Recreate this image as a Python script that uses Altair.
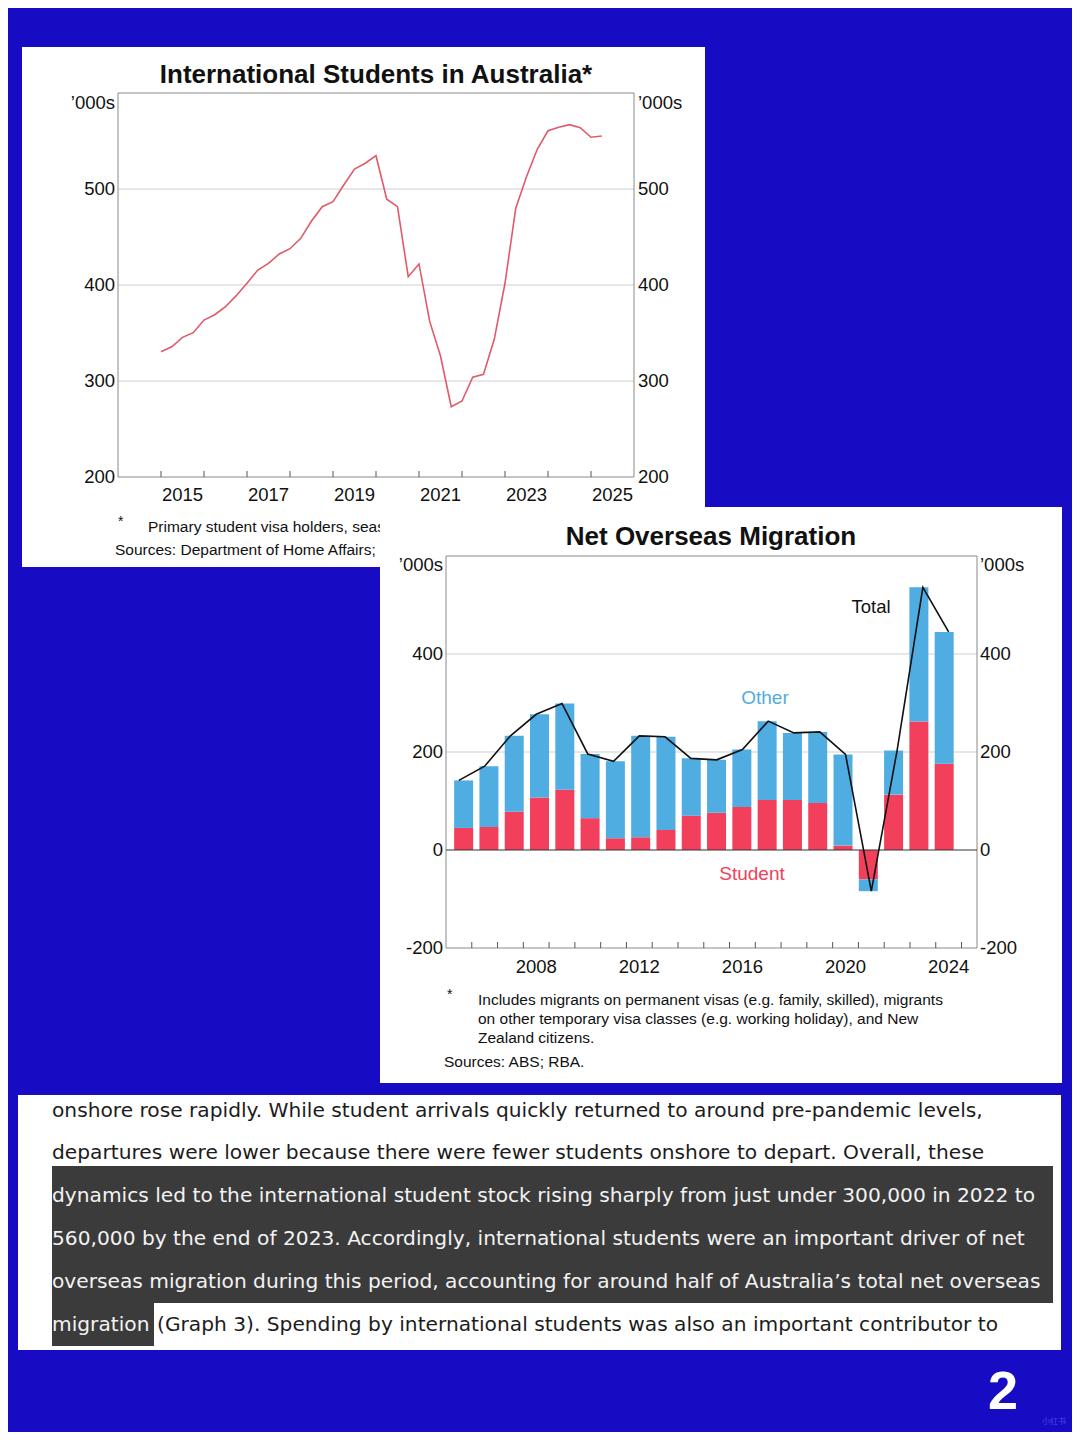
import altair as alt
import pandas as pd

# ---------------- Graph 1: International Students in Australia ('000s, quarterly) ----------------
stock_values = [330.5, 335.7, 345.5, 350.3, 363.5, 369.0, 377.4, 388.9, 401.8, 415.6,
                422.6, 432.3, 437.8, 448.6, 466.7, 481.6, 486.8, 504.2, 520.8, 526.8,
                534.7, 489.3, 481.6, 408.6, 421.9, 361.8, 326.0, 273.2, 279.2, 303.9,
                307.0, 343.4, 401.8, 479.9, 512.8, 541.4, 560.7, 564.3, 567.0, 563.9,
                553.9, 555.2]
stock_quarters = [f"{2015 + i // 4}-Q{i % 4 + 1}" for i in range(len(stock_values))]
g1_tick_years = [2015, 2016, 2017, 2018, 2019, 2020, 2021, 2022, 2023, 2024, 2025]
g1_label_years = ["2015", "2017", "2019", "2021", "2023", "2025"]
g1_y_labels = ["200", "300", "400", "500"]
g1_grid = [300, 400, 500]

# ---------------- Graph 2: Net Overseas Migration ('000s, annual) ----------------
nom_years = [2005, 2006, 2007, 2008, 2009, 2010, 2011, 2012, 2013, 2014,
             2015, 2016, 2017, 2018, 2019, 2020, 2021, 2022, 2023, 2024]
nom_student = [45, 47, 78, 107, 123, 65, 24, 26, 41, 70,
               76, 88, 102, 102, 96, 9, -60, 113, 262, 176]
nom_other = [97, 124, 155, 170, 176, 131, 157, 207, 190, 117,
             108, 117, 161, 137, 145, 186, -24, 90, 274, 269]
nom_total = [142, 171, 233, 277, 299, 196, 181, 233, 231, 187,
             184, 205, 263, 239, 241, 195, -84, 203, 536, 445]
g2_tick_years = [2005.5, 2006.5, 2007.5, 2008.5, 2009.5, 2010.5, 2011.5, 2012.5, 2013.5, 2014.5,
                 2015.5, 2016.5, 2017.5, 2018.5, 2019.5, 2020.5, 2021.5, 2022.5, 2023.5, 2024.5]
g2_label_years = ["2008", "2012", "2016", "2020", "2024"]
g2_y_labels = ["-200", "0", "200", "400"]
g2_grid = [200, 400]

# ---------------- Text block ----------------
text_plain = [
    "onshore rose rapidly. While student arrivals quickly returned to around pre-pandemic levels,",
    "departures were lower because there were fewer students onshore to depart. Overall, these",
]
text_highlight = [
    "dynamics led to the international student stock rising sharply from just under 300,000 in 2022 to",
    "560,000 by the end of 2023. Accordingly, international students were an important driver of net",
    "overseas migration during this period, accounting for around half of Australia\u2019s total net overseas",
]
last_highlight = "migration"
last_plain = "(Graph 3). Spending by international students was also an important contributor to"

# ---------------- styling ----------------
F = "Liberation Sans"
TF = "DejaVu Sans"
TS = 20.2
BG = "#170cc4"
LINE1 = "#e05a6a"
RED = "#f2405c"
BLUE = "#4fade2"
GRID = "#cfcfcf"
FRAME = "#8a8a8a"

one = alt.Data(values=[{"k": 0}])


def box(x1, y1, x2, y2, fill, stroke=None, opacity=1.0):
    props = {"fill": fill, "fillOpacity": opacity}
    if stroke:
        props.update({"stroke": stroke, "strokeWidth": 1})
    return alt.Chart(one).mark_rect(**props).encode(
        x=alt.value(x1), x2=alt.value(x2), y=alt.value(y1), y2=alt.value(y2))


def txt(s, x, y, size=18, color="#111111", align="left", weight="normal", font=F, baseline="middle"):
    return alt.Chart(one).mark_text(text=s, fontSize=size, color=color, align=align,
                                    fontWeight=weight, font=font, baseline=baseline).encode(
        x=alt.value(x), y=alt.value(y))


L = []

# ===== Panel 1 =====
XS1 = alt.Scale(domain=[2014, 2026], range=[110, 626], nice=False, zero=False)
YS1 = alt.Scale(domain=[200, 600], range=[469, 85], nice=False, zero=False)

L.append(box(14, 39, 697, 559, "#ffffff"))
L.append(txt("International Students in Australia*", 368, 67, size=26, weight="bold", align="center"))
L.append(alt.Chart(pd.DataFrame({"v": g1_grid})).mark_rule(color=GRID, strokeWidth=1).encode(
    y=alt.Y("v:Q", scale=YS1, axis=None), x=alt.value(110), x2=alt.value(626)))
L.append(box(110, 85, 626, 469, "#ffffff", stroke=FRAME, opacity=0))
L.append(alt.Chart(pd.DataFrame({"yr": g1_tick_years})).mark_rule(color="#555555").encode(
    x=alt.X("yr:Q", scale=XS1, axis=None), y=alt.value(463), y2=alt.value(469)))
L.append(alt.Chart(pd.DataFrame({"lab": g1_label_years}))
         .transform_calculate(pos="toNumber(datum.lab) + 0.5")
         .mark_text(fontSize=18.5, font=F, color="#111111", baseline="middle")
         .encode(x=alt.X("pos:Q", scale=XS1, axis=None), y=alt.value(487), text="lab:N"))
for xpos, al in [(107, "right"), (630, "left")]:
    L.append(alt.Chart(pd.DataFrame({"lab": g1_y_labels}))
             .transform_calculate(v="toNumber(datum.lab)")
             .mark_text(fontSize=18.5, font=F, color="#111111", baseline="middle", align=al)
             .encode(y=alt.Y("v:Q", scale=YS1, axis=None), x=alt.value(xpos), text="lab:N"))
L.append(txt("\u2019000s", 107, 95, size=18.5, align="right"))
L.append(txt("\u2019000s", 630, 95, size=18.5, align="left"))

df_stock = pd.DataFrame({"q": stock_quarters, "v": stock_values})
L.append(alt.Chart(df_stock)
         .transform_calculate(t="toNumber(slice(datum.q, 0, 4)) + (toNumber(slice(datum.q, 6)) - 1) / 4")
         .mark_line(color=LINE1, strokeWidth=1.6)
         .encode(x=alt.X("t:Q", scale=XS1, axis=None), y=alt.Y("v:Q", scale=YS1, axis=None)))

L.append(txt("*", 110, 514, size=14))
L.append(txt("Primary student visa holders, seasonally adjusted", 140, 519, size=15.5))
L.append(txt("Sources: Department of Home Affairs; RBA.", 107, 542, size=15.5))

# ===== Panel 2 =====
XS2 = alt.Scale(domain=[2004.5, 2025.1], range=[438, 969], nice=False, zero=False)
YS2 = alt.Scale(domain=[-200, 600], range=[940, 548], nice=False, zero=False)

L.append(box(372, 499, 1054, 1075, "#ffffff"))
L.append(txt("Net Overseas Migration", 703, 529, size=26, weight="bold", align="center"))
L.append(alt.Chart(pd.DataFrame({"v": g2_grid})).mark_rule(color=GRID, strokeWidth=1).encode(
    y=alt.Y("v:Q", scale=YS2, axis=None), x=alt.value(438), x2=alt.value(969)))
L.append(box(438, 548, 969, 940, "#ffffff", stroke=FRAME, opacity=0))
L.append(alt.Chart(pd.DataFrame({"yr": g2_tick_years})).mark_rule(color="#555555").encode(
    x=alt.X("yr:Q", scale=XS2, axis=None), y=alt.value(934), y2=alt.value(940)))
L.append(alt.Chart(pd.DataFrame({"lab": g2_label_years}))
         .transform_calculate(pos="toNumber(datum.lab)")
         .mark_text(fontSize=18.5, font=F, color="#111111", baseline="middle")
         .encode(x=alt.X("pos:Q", scale=XS2, axis=None), y=alt.value(959), text="lab:N"))
for xpos, al in [(435, "right"), (972, "left")]:
    L.append(alt.Chart(pd.DataFrame({"lab": g2_y_labels}))
             .transform_calculate(v="toNumber(datum.lab)")
             .mark_text(fontSize=18.5, font=F, color="#111111", baseline="middle", align=al)
             .encode(y=alt.Y("v:Q", scale=YS2, axis=None), x=alt.value(xpos), text="lab:N"))
L.append(txt("\u2019000s", 435, 557, size=18.5, align="right"))
L.append(txt("\u2019000s", 972, 557, size=18.5, align="left"))

df_nom = pd.DataFrame({
    "year": nom_years + nom_years,
    "series": ["Student"] * len(nom_years) + ["Other"] * len(nom_years),
    "v": nom_student + nom_other,
    "ord": [0] * len(nom_years) + [1] * len(nom_years),
})
L.append(alt.Chart(df_nom).mark_bar(size=19, orient="vertical").encode(
    x=alt.X("year:Q", scale=XS2, axis=None),
    y=alt.Y("v:Q", scale=YS2, axis=None, stack="zero"),
    color=alt.Color("series:N", scale=alt.Scale(domain=["Student", "Other"], range=[RED, BLUE]), legend=None),
    order=alt.Order("ord:Q", sort="ascending"),
))
L.append(alt.Chart(pd.DataFrame({"v": [0]})).mark_rule(color="#333333", strokeWidth=1).encode(
    y=alt.Y("v:Q", scale=YS2, axis=None), x=alt.value(438), x2=alt.value(969)))
L.append(alt.Chart(pd.DataFrame({"year": nom_years, "v": nom_total}))
         .mark_line(color="#111111", strokeWidth=1.6)
         .encode(x=alt.X("year:Q", scale=XS2, axis=None), y=alt.Y("v:Q", scale=YS2, axis=None)))
L.append(txt("Total", 863, 599, size=18.5, align="center"))
L.append(txt("Other", 757, 690, size=19, align="center", color=BLUE))
L.append(txt("Student", 744, 866, size=19, align="center", color=RED))

L.append(txt("*", 439, 987, size=14))
L.append(txt("Includes migrants on permanent visas (e.g. family, skilled), migrants", 470, 992, size=15.5))
L.append(txt("on other temporary visa classes (e.g. working holiday), and New", 470, 1011, size=15.5))
L.append(txt("Zealand citizens.", 470, 1030, size=15.5))
L.append(txt("Sources: ABS; RBA.", 436, 1054, size=15.5))

# ===== Text block =====
L.append(box(10, 1087, 1053, 1342, "#ffffff"))
L.append(box(44, 1158, 1045, 1295, "#3b3b3b"))
L.append(box(44, 1295, 146, 1338, "#3b3b3b"))
baselines = [1109, 1151, 1194, 1237, 1280, 1323]
for i, s in enumerate(text_plain):
    L.append(txt(s, 44, baselines[i], size=TS, font=TF, color="#1c1c1c", baseline="alphabetic"))
for i, s in enumerate(text_highlight):
    L.append(txt(s, 44, baselines[2 + i], size=TS, font=TF, color="#f2f2f2", baseline="alphabetic"))
L.append(txt(last_highlight, 44, baselines[5], size=TS, font=TF, color="#f2f2f2", baseline="alphabetic"))
L.append(txt(last_plain, 149, baselines[5], size=TS, font=TF, color="#1c1c1c", baseline="alphabetic"))

# ===== Page number =====
L.append(txt("2", 995, 1385, size=54, weight="bold", color="#ffffff", align="center"))
L.append(txt("\u5c0f\u7ea2\u4e66", 1046, 1414, size=8, color="#4a44e0", align="center",
             font="Noto Sans CJK SC"))

chart = (alt.layer(*L)
         .resolve_scale(x="independent", y="independent", color="independent")
         .properties(width=1064, height=1424, background=BG, padding=0,
                     autosize=alt.AutoSizeParams(type="none"))
         .configure_view(stroke=None))

chart.save("out.html", embed_options={"renderer": "svg", "actions": False})
